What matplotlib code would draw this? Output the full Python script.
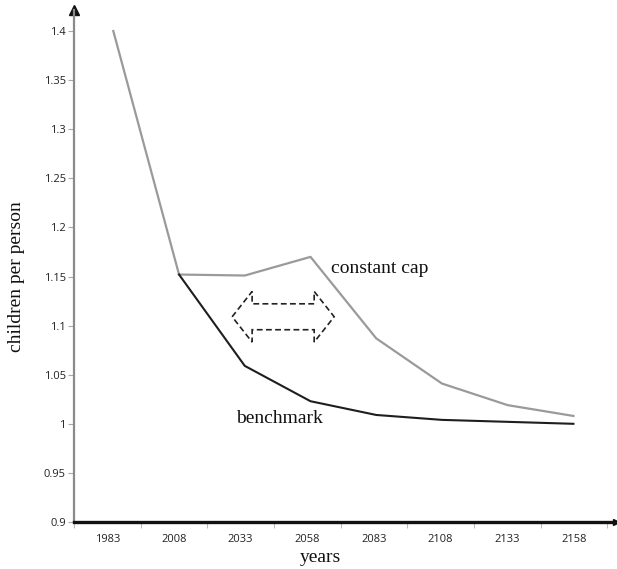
#!/usr/bin/env python3

import numpy as np
import matplotlib
matplotlib.use("Agg")
import matplotlib.pyplot as plt
import matplotlib.patches as patches
from matplotlib.ticker import FuncFormatter

# data
years = [1983, 2008, 2033, 2058, 2083, 2108, 2133, 2158]
constant_cap = [1.4, 1.152, 1.151, 1.170, 1.087, 1.041, 1.019, 1.008]
benchmark = [1.4, 1.152, 1.059, 1.023, 1.009, 1.004, 1.002, 1.0]
year_labels = ["1983", "2008", "2033", "2058", "2083", "2108", "2133", "2158"]
y_ticks = [0.9, 0.95, 1.0, 1.05, 1.1, 1.15, 1.2, 1.25, 1.3, 1.35, 1.4]


def main():
    W, H = 617, 569
    fig = plt.figure(figsize=(W / 100, H / 100), dpi=100)
    ax = fig.add_axes([74 / W, 47 / H, (616 - 74) / W, (559 - 47) / H])

    serif = ["Liberation Serif", "DejaVu Serif"]
    sans = ["Open Sans", "DejaVu Sans"]

    # category axis: labels sit between ticks, spacing a bit wider than the data step
    x0 = 1968.05
    cat = 25.356
    ax.set_xlim(x0, 2174.2)
    ax.set_ylim(0.9, 1.4214)

    ax.plot(years, constant_cap, color="#9a9a9a", lw=1.6, zorder=3)
    ax.plot(years[1:], benchmark[1:], color="#1e1e1e", lw=1.5, zorder=4)

    ax.set_xticks([x0 + cat * k for k in range(9)])
    ax.set_xticklabels([])
    ax.set_xticks([x0 + cat * (k + 0.5) for k in range(len(year_labels))], minor=True)
    ax.set_xticklabels(year_labels, minor=True, fontsize=8, family=sans, color="#222222")
    ax.tick_params(axis="x", which="major", length=4, color="#bbbbbb", width=0.8)
    ax.tick_params(axis="x", which="minor", length=0, pad=9)

    ax.set_yticks(y_ticks)
    ax.yaxis.set_major_formatter(FuncFormatter(lambda v, p: "{:g}".format(round(v, 2))))
    ax.tick_params(axis="y", length=4, color="#aaaaaa", width=0.8, pad=2,
                   labelsize=8, labelcolor="#222222")
    for lab in ax.get_yticklabels():
        lab.set_family(sans)

    for s in ["top", "right"]:
        ax.spines[s].set_visible(False)
    ax.spines["left"].set_color("#8a8a8a")
    ax.spines["left"].set_linewidth(1.6)
    ax.spines["bottom"].set_color("#111111")
    ax.spines["bottom"].set_linewidth(2.4)
    ax.spines["bottom"].set_zorder(5)

    ax.plot(0, 1, "^", color="#111111", ms=7, transform=ax.transAxes, clip_on=False)
    ax.plot(1, 0, ">", color="#111111", ms=5, transform=ax.transAxes, clip_on=False)

    # dashed outline double arrow
    cx, cy = 2047.6, 1.109
    half, head = 19.4, 7.6
    hh, sh = 0.0258, 0.0132
    verts = [
        (cx - half, cy), (cx - half + head, cy + hh), (cx - half + head, cy + sh),
        (cx + half - head, cy + sh), (cx + half - head, cy + hh), (cx + half, cy),
        (cx + half - head, cy - hh), (cx + half - head, cy - sh),
        (cx - half + head, cy - sh), (cx - half + head, cy - hh),
    ]
    arrow = patches.Polygon(verts, closed=True, fill=False, edgecolor="#222222",
                            lw=1.2, linestyle=(0, (3.5, 2)))
    ax.add_patch(arrow)

    ax.text(2065.7, 1.1536, "constant cap", fontsize=14, family=serif,
            va="baseline", ha="left", color="#111111")
    ax.text(2029.7, 1.0008, "benchmark", fontsize=14, family=serif,
            va="baseline", ha="left", color="#111111")

    fig.text(17 / W, 1 - 277 / H, "children per person", rotation=90, fontsize=14,
             family=serif, ha="center", va="center", color="#111111")
    fig.text(320 / W, 1 - 558 / H, "years", fontsize=14, family=serif,
             ha="center", va="center", color="#111111")

    fig.savefig("out.png", dpi=100)


if __name__ == "__main__":
    main()
